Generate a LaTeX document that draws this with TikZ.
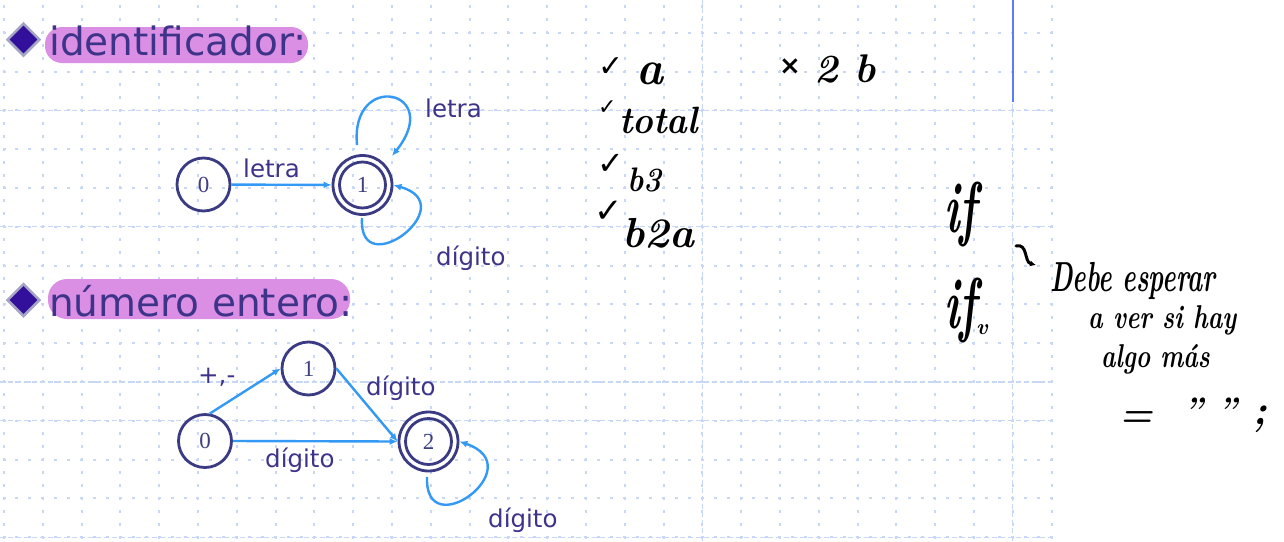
\documentclass[tikz,border=0pt]{standalone}
\usepackage{fontspec}
\usetikzlibrary{arrows.meta,shapes.geometric,calc}
\newfontfamily\dvs{DejaVu Sans}
\newfontfamily\lsr{Liberation Serif}
\definecolor{navy}{HTML}{3B3B84}
\definecolor{txtpurple}{HTML}{3D3489}
\definecolor{hlpink}{HTML}{DA8FE4}
\definecolor{arrowblue}{HTML}{3399F5}
\definecolor{griddot}{HTML}{C9D7F7}
\definecolor{linblue}{HTML}{5A7CFA}
\definecolor{bulletfill}{HTML}{33109C}
\definecolor{bulletedge}{HTML}{A4A4C4}
\definecolor{digitc}{HTML}{3E3E80}
\newcommand\hw[3]{\scalebox{#2}[1]{\fontsize{#1}{#1}\bfseries\itshape\selectfont #3}}
\newcommand\ckm[1]{{\dvs\bfseries\fontsize{#1}{#1}\selectfont ✓}}
\begin{document}
\begin{tikzpicture}[x=1pt,y=-1pt,
  gdot/.style={draw=griddot, line width=2pt, dash pattern=on 3pt off 9.93pt},
  gdash/.style={draw=griddot, line width=1.3pt, dash pattern=on 5pt off 3pt},
  state/.style={circle, draw=navy, line width=2.8pt, minimum size=53pt, inner sep=0pt, text=digitc, font=\lsr\fontsize{23}{23}\selectfont},
  accept/.style={state, minimum size=59pt},
  ring/.style={draw=navy, line width=2.8pt},
  trans/.style={draw=arrowblue, line width=2.4pt, -{Latex[length=8pt,width=7pt]}},
  lbl/.style={anchor=base west, inner sep=0pt, text=txtpurple, font=\dvs\fontsize{24.5}{24.5}\selectfont},
  head/.style={anchor=base west, inner sep=0pt, text=txtpurple, font=\dvs\fontsize{39}{39}\selectfont},
  hand/.style={anchor=base west, inner sep=0pt, text=black},
  bullet/.style={diamond, aspect=1, fill=bulletfill, draw=bulletedge, line width=2.5pt, minimum width=33pt, minimum height=33pt, inner sep=0pt},
  hlight/.style={fill=hlpink}
]
\fill[white] (0,0) rectangle (1284,541);
\useasboundingbox (0,0) rectangle (1284,541);
% grid
\foreach \k in {0,...,27}{\draw[gdot] ({4+38.8*\k},-7.5) -- ({4+38.8*\k},541);}
\foreach \k in {0,...,13}{\draw[gdot] (2.5,{32.8+38.8*\k}) -- (1052,{32.8+38.8*\k});}
\foreach \y in {110.4,226.8,382,420.8,537.2}{\draw[gdash] (0,\y) -- (1052,\y);}
\foreach \x in {702.4,1012.8}{\draw[gdash] (\x,0) -- (\x,541);}
\draw[linblue, line width=1.8pt] (1012.8,0) -- (1012.8,102);

% headings
\node[bullet] (b1) at (23.5,39.5) {};
\fill[hlight, rounded corners=17pt] (45,27) rectangle (308,63);
\node[head] (h1) at (49,55) {identificador:};
\node[bullet] (b2) at (23.5,300) {};
\fill[hlight, rounded corners=19pt] (48,279) rectangle (350,319);
\node[head] (h2) at (49,316.5) {número entero:};

% automaton 1
\node[state] (a0) at (203.5,184.5) {0};
\node[accept] (a1) at (362.5,185) {1};
\draw[ring] (a1.center) circle[radius=23];
\draw[trans] (a0) -- (a1);
\draw[trans] ([shift={(-5.5,-40)}]a1.center) .. controls ([shift={(-12.5,-115)}]a1.center) and ([shift={(82,-95)}]a1.center) .. ([shift={(29.5,-29)}]a1.center);
\draw[trans] ([shift={(-0.5,33)}]a1.center) .. controls ([shift={(-4.5,100)}]a1.center) and ([shift={(102,20)}]a1.center) .. (a1.east);
\node[lbl] (l1) at (243,177) {letra};
\node[lbl] (l2) at (425,117) {letra};
\node[lbl] (l3) at (436,265) {dígito};

% automaton 2
\node[state] (c0) at (205,441) {0};
\node[state] (c1) at (308.5,368.5) {1};
\node[accept] (c2) at (428.5,441.5) {2};
\draw[ring] (c2.center) circle[radius=23];
\draw[trans] (c0.80) -- (c1.west);
\draw[trans] (c1.east) -- (c2.west);
\draw[trans] (c0.east) -- (c2.west);
\draw[trans] ([shift={(-1.5,35.5)}]c2.center) .. controls ([shift={(-4,105)}]c2.center) and ([shift={(104,25)}]c2.center) .. (c2.east);
\node[lbl] (l4) at (198,383) {+,-};
\node[lbl] (l5) at (366,395) {dígito};
\node[lbl] (l6) at (265,467) {dígito};
\node[lbl] (l7) at (488,527) {dígito};

% handwriting
\node[hand] (ck1) at (598,76) {\ckm{30}};
\node[hand] (w1) at (636,84) {\hw{48}{0.95}{a}};
\node[hand] (x1) at (779,74) {{\dvs\bfseries\fontsize{26}{26}\selectfont ×}};
\node[hand] (w2) at (814,82) {\hw{40}{1}{2 b}};
\node[hand] (ck2) at (598,114) {\ckm{22}};
\node[hand] (w3) at (619,133) {\hw{38}{0.92}{total}};
\node[hand] (ck3) at (597,174) {\ckm{32}};
\node[hand] (w4) at (627,191) {\hw{34}{0.9}{b3}};
\node[hand] (ck4) at (594,222) {\ckm{34}};
\node[hand] (w5) at (622,247) {\hw{42}{1}{b2a}};
\node[hand] (w6) at (944,232) {\hw{72}{0.6}{if}};
\node[hand] (w7) at (944,328) {\hw{72}{0.6}{if}};
\node[hand] (w7v) at (976,334) {\hw{22}{1}{v}};
\node[hand] (n1) at (1050,291) {\hw{42}{0.61}{Debe esperar}};
\node[hand] (n2) at (1088,328) {\hw{33}{0.75}{a ver si hay}};
\node[hand] (n3) at (1101,367) {\hw{33}{0.74}{algo más}};
\node[hand] (n4) at (1119,426) {\hw{38}{1}{=}};
\node[hand] (n5) at (1183,421) {\hw{34}{1}{" "}};
\node[hand] (n6) at (1252,424) {\hw{42}{1}{;}};
\coordinate (hk) at (1016,246);
\draw[black, line width=3pt, line cap=round, -{Latex[length=6pt,width=6pt]}] (hk) .. controls +(12,-3) and +(-12,-3) .. ([shift={(-14,-26)}]n1.base west);
\end{tikzpicture}
\end{document}
